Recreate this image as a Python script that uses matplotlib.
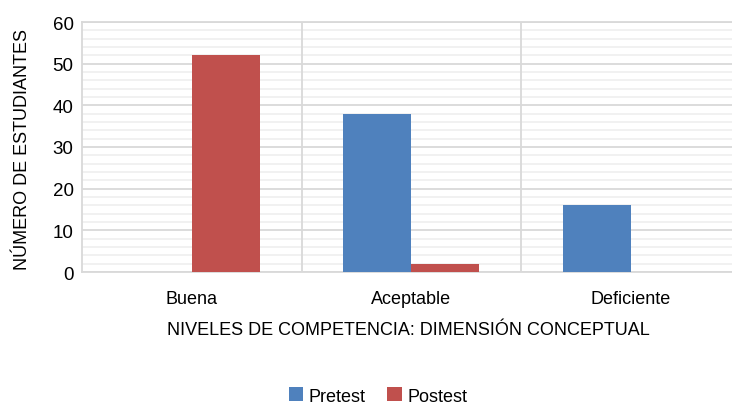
import numpy as np
import matplotlib
matplotlib.use("Agg")
from matplotlib import pyplot as plt
from matplotlib.ticker import MultipleLocator

# data
niveles = ["Buena", "Aceptable", "Deficiente"]
pretest = [0, 38, 16]
postest = [52, 2, 0]

plt.rcParams['font.family'] = ['Liberation Sans', 'DejaVu Sans']

fig = plt.figure(figsize=(7.32, 4.06), dpi=100)
# plot area runs past the right edge of the picture, as in the reference
ax = fig.add_axes([82 / 732, 1 - 273 / 406, 658.5 / 732, 250 / 406])

x = np.arange(len(niveles))
w = 0.31
ax.bar(x - w / 2, pretest, w, color="#4F81BD", label="Pretest", zorder=3)
ax.bar(x + w / 2, postest, w, color="#C0504D", label="Postest", zorder=3)

ax.set_xlim(-0.5, 2.5)
ax.set_ylim(0, 60)
ax.yaxis.set_major_locator(MultipleLocator(10))
ax.yaxis.set_minor_locator(MultipleLocator(2))
ax.grid(which="minor", axis="y", color="#F0F0F0", linewidth=1.3, zorder=0)
ax.grid(which="major", axis="y", color="#D9D9D9", linewidth=1.3, zorder=0)
for b in [0.5, 1.5]:
    ax.axvline(b, color="#D9D9D9", linewidth=1.3, zorder=2)

for s in ["top", "right", "bottom", "left"]:
    ax.spines[s].set_color("#D9D9D9")
    ax.spines[s].set_linewidth(1.3)
ax.spines["right"].set_visible(False)

ax.set_xticks(x)
ax.set_xticklabels(niveles, fontsize=13)
ax.tick_params(axis="both", which="both", length=0)
ax.tick_params(axis="y", labelsize=13.5, pad=6)
ax.tick_params(axis="x", pad=13)

fig.text(23 / 732, 1 - 150 / 406, "NÚMERO DE ESTUDIANTES", rotation=90,
         ha="center", va="center", fontsize=13)
fig.text(408 / 732, 1 - 331 / 406, "NIVELES DE COMPETENCIA: DIMENSIÓN CONCEPTUAL",
         ha="center", va="center", fontsize=13)

fig.legend(loc="center", bbox_to_anchor=(378 / 732, 1 - 397 / 406), ncol=2,
           frameon=False, fontsize=13, handlelength=0.8, handleheight=0.8,
           handletextpad=0.3, columnspacing=1.2)

fig.savefig("out.png", dpi=100)
